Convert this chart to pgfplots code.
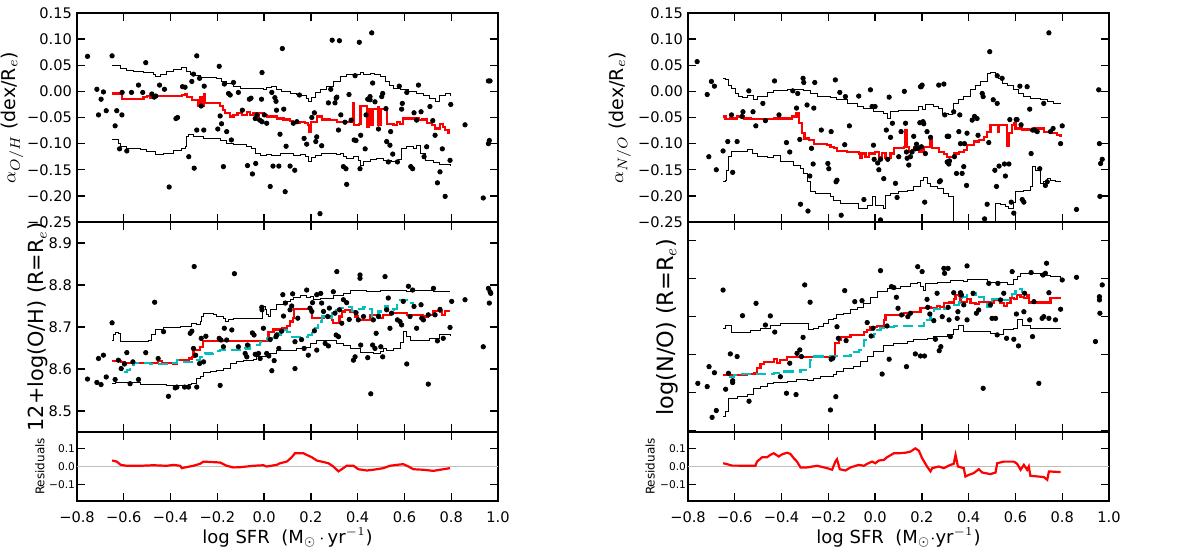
\documentclass[border=0pt]{standalone}
\usepackage{pgfplots}
\pgfplotsset{compat=1.18}
\usepackage{fontspec}
\setmainfont{DejaVu Sans}
\definecolor{mcyan}{rgb}{0,0.75,0.75}
\pgfplotsset{
  panel/.style={scale only axis, width=210.5pt, xmin=-0.8, xmax=1.0,
    xtick={-0.8,-0.6,-0.4,-0.2,0,0.2,0.4,0.6,0.8,1.0},
    tick align=inside, major tick length=4pt,
    axis line style={line width=0.8pt},
    every tick/.append style={line width=0.7pt, black},
    tick label style={font=\fontsize{7.3}{8}\selectfont},
    yticklabel style={xshift=1pt},
    label style={font=\fontsize{9.5}{11}\selectfont},
    anchor=south west},
  xlabs/.style={xticklabels={−0.8,−0.6,−0.4,−0.2,0.0,0.2,0.4,0.6,0.8,1.0},
    xticklabel style={yshift=-2pt},
    xlabel style={at={(axis description cs:0.5,-0.53)}, anchor=center, font=\fontsize{9}{11}\selectfont}},
  noxlabs/.style={xticklabels={}},
  alphay/.style={ymin=-0.25, ymax=0.15, ytick={-0.25,-0.2,-0.15,-0.1,-0.05,0,0.05,0.1,0.15},
    yticklabels={−0.25,−0.20,−0.15,−0.10,−0.05,0.00,0.05,0.10,0.15}},
  resy/.style={height=34.5pt, ymin=-0.19, ymax=0.19, ytick={-0.1,0,0.1},
    yticklabels={−0.1,0.0,0.1}, yticklabel style={font=\fontsize{5.3}{6}\selectfont, xshift=1.5pt},
    ylabel={Residuals}, ylabel style={font=\fontsize{6}{7}\selectfont}},
  dots/.style={only marks, mark=*, mark size=1.1pt, black},
  env/.style={black, line width=0.5pt, no markers, const plot},
  med/.style={red, line width=1.1pt, no markers, const plot},
  resl/.style={red, line width=1.1pt, no markers},
  fitl/.style={mcyan, line width=1.1pt, dash pattern=on 5pt off 2.5pt, no markers, const plot},
  zero/.style={black!25, line width=0.8pt, no markers},
}
\begin{document}
\begin{tikzpicture}
\useasboundingbox (0,0) rectangle (600pt,277pt);
% ================= LEFT TOP =================
\begin{axis}[panel, alphay, noxlabs, at={(38.5pt,166pt)}, height=104.5pt,
  ylabel={$\alpha_{O/H}$ (dex/R$_e$)},
  ylabel style={at={(axis description cs:-0.154,0.5)}, anchor=center}]
\addplot[dots] coordinates {
(-0.755,0.067) (-0.715,0.004) (-0.708,-0.045) (-0.697,-0.015) (-0.687,-0.001) (-0.675,-0.037) (-0.650,0.068) (-0.637,-0.066) (-0.630,-0.037) (-0.618,-0.110) (-0.608,-0.045) (-0.607,-0.002) (-0.587,-0.114) (-0.567,-0.002) (-0.537,0.012) (-0.519,-0.002) (-0.506,0.055) (-0.480,-0.005) (-0.470,-0.011) (-0.463,-0.009) (-0.447,0.012) (-0.426,0.004) (-0.406,-0.183) (-0.377,-0.052) (-0.370,-0.050) (-0.349,0.009) (-0.338,0.008) (-0.322,-0.125) (-0.309,0.019) (-0.302,0.033) (-0.299,-0.147) (-0.288,0.068) (-0.288,-0.074) (-0.276,0.025) (-0.269,-0.028) (-0.258,-0.074) (-0.256,0.010) (-0.198,-0.072) (-0.192,0.048) (-0.188,-0.047) (-0.182,-0.062) (-0.174,-0.144) (-0.170,0.014) (-0.160,-0.077) (-0.152,-0.004) (-0.145,-0.007) (-0.140,-0.093) (-0.131,0.017) (-0.110,-0.002) (-0.093,-0.036) (-0.071,-0.142) (-0.063,-0.015) (-0.056,-0.013) (-0.050,-0.158) (-0.038,-0.052) (-0.036,-0.138) (-0.031,-0.045) (-0.019,-0.055) (-0.011,-0.015) (-0.009,0.036) (-0.009,-0.058) (0.001,-0.045) (0.011,-0.061) (0.026,-0.182) (0.033,-0.002) (0.038,-0.143) (0.046,-0.012) (0.051,-0.019) (0.053,-0.036) (0.063,-0.143) (0.068,-0.082) (0.078,0.082) (0.084,-0.034) (0.090,-0.192) (0.094,-0.105) (0.111,-0.143) (0.125,-0.061) (0.131,-0.151) (0.140,-0.058) (0.151,-0.007) (0.171,-0.090) (0.182,-0.101) (0.204,-0.050) (0.215,-0.041) (0.221,-0.096) (0.225,-0.087) (0.239,-0.234) (0.246,-0.104) (0.275,-0.022) (0.285,0.004) (0.291,0.098) (0.303,-0.022) (0.308,-0.013) (0.311,-0.011) (0.318,-0.074) (0.322,0.097) (0.328,-0.045) (0.339,-0.144) (0.346,-0.059) (0.350,-0.148) (0.353,-0.178) (0.363,-0.006) (0.372,-0.055) (0.385,-0.093) (0.389,0.030) (0.393,-0.094) (0.407,0.094) (0.410,-0.148) (0.413,-0.084) (0.432,-0.110) (0.436,-0.045) (0.443,-0.015) (0.453,-0.010) (0.460,0.112) (0.464,0.016) (0.453,-0.016) (0.474,-0.020) (0.489,-0.072) (0.503,-0.010) (0.507,-0.004) (0.521,-0.033) (0.524,-0.096) (0.531,-0.135) (0.538,-0.103) (0.541,-0.077) (0.550,-0.120) (0.570,-0.135) (0.578,0.010) (0.588,-0.034) (0.591,-0.023) (0.610,-0.002) (0.627,-0.144) (0.635,-0.148) (0.641,-0.041) (0.652,-0.055) (0.660,0.012) (0.671,-0.039) (0.684,-0.125) (0.695,-0.106) (0.709,-0.029) (0.721,-0.056) (0.731,-0.084) (0.741,-0.175) (0.752,-0.154) (0.762,-0.110) (0.774,-0.201) (0.795,-0.132) (0.798,-0.025) (0.859,-0.064) (0.937,-0.204) (0.959,0.020) (0.966,0.020) (0.959,-0.100) (0.963,-0.094)};
\addplot[env] coordinates {
(-0.650,0.049) (-0.637,0.049) (-0.615,0.044) (-0.587,0.040) (-0.558,0.038) (-0.516,0.037) (-0.473,0.033) (-0.466,0.028) (-0.444,0.032) (-0.416,0.039) (-0.387,0.041) (-0.352,0.046) (-0.330,0.038) (-0.316,0.033) (-0.295,0.030) (-0.274,0.027) (-0.217,0.027) (-0.202,0.025) (-0.181,0.018) (-0.160,0.016) (-0.131,0.009) (-0.103,0.006) (-0.003,0.004) (0.011,0.008) (0.033,0.009) (0.054,0.003) (0.075,0.000) (0.111,-0.004) (0.140,-0.006) (0.161,-0.007) (0.182,-0.013) (0.189,-0.020) (0.204,-0.011) (0.218,-0.002) (0.239,0.004) (0.268,0.010) (0.296,0.019) (0.325,0.028) (0.353,0.033) (0.410,0.036) (0.425,0.033) (0.453,0.035) (0.474,0.033) (0.496,0.028) (0.517,0.019) (0.538,0.012) (0.553,0.006) (0.581,0.003) (0.617,-0.000) (0.652,-0.004) (0.681,-0.007) (0.709,-0.013) (0.731,-0.020) (0.752,-0.007) (0.774,-0.005) (0.795,-0.009)};
\addplot[env] coordinates {
(-0.650,-0.093) (-0.637,-0.092) (-0.623,-0.100) (-0.615,-0.106) (-0.587,-0.109) (-0.530,-0.112) (-0.501,-0.116) (-0.466,-0.120) (-0.430,-0.118) (-0.387,-0.114) (-0.352,-0.109) (-0.338,-0.106) (-0.330,-0.087) (-0.323,-0.082) (-0.302,-0.087) (-0.259,-0.090) (-0.217,-0.090) (-0.188,-0.094) (-0.160,-0.100) (-0.131,-0.101) (-0.074,-0.106) (-0.053,-0.109) (-0.038,-0.119) (-0.017,-0.122) (0.011,-0.120) (0.033,-0.122) (0.068,-0.118) (0.125,-0.122) (0.154,-0.120) (0.175,-0.124) (0.189,-0.135) (0.204,-0.127) (0.218,-0.122) (0.246,-0.119) (0.282,-0.118) (0.311,-0.120) (0.325,-0.119) (0.339,-0.125) (0.353,-0.128) (0.382,-0.125) (0.403,-0.132) (0.410,-0.141) (0.425,-0.135) (0.453,-0.130) (0.481,-0.129) (0.510,-0.132) (0.546,-0.135) (0.574,-0.130) (0.588,-0.109) (0.610,-0.105) (0.638,-0.109) (0.652,-0.103) (0.667,-0.119) (0.688,-0.132) (0.724,-0.137) (0.752,-0.139) (0.795,-0.143)};
\addplot[med] coordinates {
(-0.650,-0.004) (-0.615,-0.005) (-0.608,-0.014) (-0.544,-0.014) (-0.516,-0.010) (-0.501,-0.009) (-0.487,-0.013) (-0.480,-0.007) (-0.473,-0.011) (-0.459,-0.009) (-0.352,-0.007) (-0.338,-0.005) (-0.330,-0.010) (-0.309,-0.016) (-0.288,-0.016) (-0.281,-0.028) (-0.274,-0.010) (-0.268,-0.028) (-0.259,-0.020) (-0.256,-0.005) (-0.252,-0.023) (-0.217,-0.023) (-0.188,-0.028) (-0.177,-0.036) (-0.167,-0.042) (-0.145,-0.048) (-0.131,-0.045) (-0.114,-0.042) (-0.095,-0.045) (-0.074,-0.039) (-0.060,-0.045) (-0.046,-0.042) (-0.031,-0.048) (-0.024,-0.042) (-0.003,-0.045) (0.011,-0.048) (0.040,-0.048) (0.054,-0.052) (0.083,-0.054) (0.111,-0.056) (0.125,-0.060) (0.154,-0.059) (0.175,-0.061) (0.189,-0.064) (0.194,-0.077) (0.200,-0.058) (0.225,-0.048) (0.246,-0.054) (0.282,-0.055) (0.311,-0.058) (0.372,-0.058) (0.380,-0.023) (0.386,-0.065) (0.405,-0.062) (0.412,-0.028) (0.432,-0.028) (0.440,-0.068) (0.447,-0.033) (0.457,-0.064) (0.466,-0.033) (0.486,-0.031) (0.489,-0.064) (0.500,-0.033) (0.520,-0.033) (0.524,-0.062) (0.553,-0.064) (0.567,-0.058) (0.581,-0.062) (0.595,-0.052) (0.638,-0.052) (0.660,-0.055) (0.674,-0.054) (0.695,-0.061) (0.717,-0.064) (0.731,-0.071) (0.752,-0.062) (0.766,-0.068) (0.775,-0.074) (0.788,-0.080) (0.795,-0.080)};
\end{axis}
% ================= LEFT MIDDLE =================
\begin{axis}[panel, noxlabs, at={(38.5pt,61pt)}, height=105pt,
  ymin=8.45, ymax=8.95, ytick={8.5,8.6,8.7,8.8,8.9},
  yticklabels={8.5,8.6,8.7,8.8,8.9},
  ylabel={12+log(O/H) (R=R$_e$)},
  ylabel style={at={(axis description cs:-0.093,0.5)}, anchor=center, font=\fontsize{10.4}{12}\selectfont}]
\addplot[dots] coordinates {
(-0.755,8.576) (-0.715,8.568) (-0.708,8.625) (-0.697,8.563) (-0.687,8.633) (-0.675,8.581) (-0.650,8.710) (-0.637,8.575) (-0.623,8.621) (-0.611,8.601) (-0.597,8.612) (-0.587,8.639) (-0.573,8.565) (-0.561,8.617) (-0.537,8.575) (-0.506,8.639) (-0.468,8.759) (-0.453,8.625) (-0.430,8.689) (-0.409,8.535) (-0.380,8.555) (-0.373,8.557) (-0.340,8.557) (-0.323,8.557) (-0.316,8.685) (-0.309,8.690) (-0.302,8.649) (-0.299,8.844) (-0.293,8.633) (-0.288,8.557) (-0.276,8.613) (-0.269,8.673) (-0.259,8.617) (-0.249,8.678) (-0.188,8.561) (-0.192,8.673) (-0.184,8.669) (-0.174,8.653) (-0.170,8.697) (-0.160,8.669) (-0.138,8.693) (-0.127,8.827) (-0.110,8.653) (-0.081,8.637) (-0.074,8.629) (-0.071,8.657) (-0.050,8.686) (-0.043,8.681) (-0.038,8.635) (-0.024,8.637) (-0.017,8.625) (-0.010,8.747) (-0.009,8.741) (-0.003,8.697) (0.011,8.637) (0.020,8.631) (0.026,8.670) (0.033,8.596) (0.043,8.620) (0.051,8.677) (0.054,8.681) (0.063,8.649) (0.075,8.690) (0.080,8.777) (0.083,8.726) (0.091,8.757) (0.111,8.741) (0.118,8.750) (0.122,8.779) (0.132,8.601) (0.132,8.665) (0.144,8.721) (0.160,8.670) (0.171,8.649) (0.182,8.788) (0.189,8.633) (0.196,8.745) (0.204,8.737) (0.207,8.758) (0.215,8.691) (0.225,8.645) (0.225,8.777) (0.242,8.780) (0.246,8.757) (0.254,8.737) (0.261,8.661) (0.272,8.725) (0.275,8.655) (0.279,8.745) (0.296,8.784) (0.303,8.733) (0.308,8.681) (0.311,8.832) (0.318,8.677) (0.322,8.741) (0.332,8.709) (0.339,8.765) (0.353,8.758) (0.364,8.718) (0.382,8.621) (0.389,8.629) (0.393,8.734) (0.403,8.717) (0.410,8.824) (0.410,8.816) (0.413,8.657) (0.425,8.725) (0.443,8.627) (0.456,8.541) (0.464,8.657) (0.467,8.717) (0.474,8.649) (0.479,8.685) (0.489,8.725) (0.499,8.653) (0.507,8.629) (0.517,8.820) (0.524,8.741) (0.531,8.769) (0.538,8.697) (0.545,8.733) (0.570,8.717) (0.581,8.713) (0.588,8.705) (0.595,8.761) (0.610,8.612) (0.617,8.797) (0.624,8.725) (0.635,8.788) (0.641,8.749) (0.652,8.697) (0.671,8.753) (0.674,8.721) (0.681,8.717) (0.702,8.564) (0.702,8.729) (0.724,8.792) (0.731,8.729) (0.741,8.667) (0.752,8.742) (0.766,8.673) (0.795,8.699) (0.802,8.761) (0.859,8.765) (0.937,8.653) (0.959,8.792) (0.963,8.757) (0.966,8.784) (0.969,8.780)};
\addplot[env] coordinates {
(-0.650,8.669) (-0.644,8.681) (-0.637,8.686) (-0.623,8.685) (-0.613,8.665) (-0.494,8.667) (-0.480,8.681) (-0.466,8.693) (-0.430,8.698) (-0.359,8.702) (-0.309,8.709) (-0.288,8.707) (-0.274,8.713) (-0.266,8.725) (-0.259,8.731) (-0.217,8.730) (-0.202,8.725) (-0.174,8.721) (-0.167,8.713) (-0.152,8.717) (-0.131,8.721) (-0.017,8.721) (-0.009,8.750) (0.004,8.741) (0.011,8.729) (0.020,8.725) (0.026,8.741) (0.054,8.753) (0.083,8.761) (0.111,8.765) (0.125,8.771) (0.154,8.776) (0.182,8.770) (0.197,8.773) (0.211,8.765) (0.239,8.769) (0.296,8.774) (0.339,8.780) (0.368,8.787) (0.410,8.788) (0.439,8.784) (0.496,8.788) (0.581,8.787) (0.610,8.784) (0.638,8.788) (0.724,8.784) (0.795,8.784)};
\addplot[env] coordinates {
(-0.650,8.565) (-0.637,8.567) (-0.530,8.564) (-0.416,8.561) (-0.323,8.564) (-0.309,8.565) (-0.288,8.577) (-0.274,8.581) (-0.259,8.591) (-0.231,8.593) (-0.202,8.597) (-0.174,8.601) (-0.145,8.612) (-0.117,8.617) (-0.088,8.621) (-0.046,8.623) (-0.031,8.629) (0.011,8.637) (0.054,8.643) (0.111,8.645) (0.140,8.649) (0.168,8.651) (0.197,8.661) (0.225,8.669) (0.282,8.667) (0.311,8.661) (0.339,8.657) (0.368,8.649) (0.410,8.639) (0.467,8.637) (0.496,8.641) (0.510,8.649) (0.524,8.645) (0.553,8.649) (0.581,8.663) (0.595,8.689) (0.607,8.677) (0.624,8.669) (0.667,8.667) (0.709,8.673) (0.752,8.681) (0.795,8.678)};
\addplot[med] coordinates {
(-0.650,8.620) (-0.613,8.617) (-0.594,8.615) (-0.473,8.615) (-0.452,8.620) (-0.437,8.615) (-0.387,8.613) (-0.373,8.621) (-0.330,8.617) (-0.321,8.625) (-0.309,8.629) (-0.302,8.645) (-0.274,8.653) (-0.262,8.667) (-0.202,8.667) (-0.160,8.667) (-0.103,8.667) (0.011,8.670) (0.019,8.689) (0.033,8.689) (0.040,8.694) (0.075,8.697) (0.097,8.702) (0.111,8.713) (0.125,8.721) (0.128,8.742) (0.197,8.742) (0.204,8.721) (0.254,8.725) (0.289,8.717) (0.296,8.709) (0.311,8.709) (0.322,8.725) (0.332,8.737) (0.346,8.741) (0.368,8.737) (0.389,8.725) (0.403,8.717) (0.439,8.717) (0.453,8.729) (0.496,8.721) (0.510,8.729) (0.538,8.733) (0.595,8.734) (0.610,8.729) (0.681,8.725) (0.702,8.729) (0.724,8.739) (0.752,8.737) (0.759,8.729) (0.774,8.739) (0.795,8.739)};
\addplot[fitl] coordinates {
(-0.601,8.593) (-0.587,8.597) (-0.573,8.609) (-0.558,8.615) (-0.487,8.612) (-0.416,8.615) (-0.373,8.621) (-0.352,8.617) (-0.309,8.621) (-0.274,8.629) (-0.252,8.637) (-0.217,8.643) (-0.188,8.645) (-0.131,8.645) (-0.081,8.649) (-0.060,8.657) (-0.017,8.665) (0.011,8.673) (0.040,8.673) (0.054,8.685) (0.068,8.681) (0.083,8.693) (0.097,8.689) (0.111,8.677) (0.154,8.677) (0.189,8.681) (0.204,8.685) (0.218,8.697) (0.232,8.713) (0.246,8.725) (0.261,8.721) (0.289,8.734) (0.303,8.741) (0.325,8.745) (0.346,8.747) (0.375,8.739) (0.396,8.742) (0.425,8.747) (0.446,8.742) (0.460,8.725) (0.489,8.737) (0.517,8.749) (0.531,8.741) (0.553,8.742) (0.567,8.753) (0.581,8.765) (0.610,8.757) (0.638,8.749)};
\end{axis}
% ================= LEFT BOTTOM =================
\begin{axis}[panel, resy, xlabs, at={(38.5pt,26.5pt)},
  xlabel={log SFR\ \ (M$_\odot\,\cdot\,$yr$^{-1}$)},
  ylabel style={at={(axis description cs:-0.088,0.5)}, anchor=center}]
\addplot[zero] coordinates {(-0.8,0) (1.0,0)};
\addplot[resl] coordinates {
(-0.650,0.033) (-0.630,0.027) (-0.613,0.009) (-0.587,0.004) (-0.530,0.004) (-0.473,0.007) (-0.416,0.004) (-0.387,0.009) (-0.359,0.004) (-0.352,-0.009) (-0.338,-0.005) (-0.302,0.004) (-0.274,0.015) (-0.259,0.027) (-0.217,0.024) (-0.188,0.022) (-0.160,0.004) (-0.131,-0.005) (-0.103,-0.004) (-0.046,0.004) (-0.003,0.007) (0.011,0.000) (0.054,0.009) (0.068,0.018) (0.097,0.027) (0.118,0.051) (0.132,0.073) (0.168,0.073) (0.182,0.064) (0.204,0.051) (0.225,0.033) (0.246,0.027) (0.275,0.018) (0.296,0.000) (0.318,-0.027) (0.332,-0.015) (0.353,0.004) (0.382,0.004) (0.403,-0.015) (0.439,-0.022) (0.467,-0.018) (0.510,-0.009) (0.538,0.004) (0.567,0.009) (0.595,0.013) (0.617,0.000) (0.638,-0.015) (0.681,-0.018) (0.724,-0.024) (0.752,-0.018) (0.795,-0.009)};
\end{axis}
% ================= RIGHT TOP =================
\begin{axis}[panel, alphay, noxlabs, at={(344pt,166pt)}, height=104.5pt,
  ylabel={$\alpha_{N/O}$ (dex/R$_e$)},
  ylabel style={at={(axis description cs:-0.162,0.5)}, anchor=center}]
\addplot[dots] coordinates {
(-0.761,0.057) (-0.718,-0.006) (-0.700,0.019) (-0.687,0.010) (-0.679,-0.150) (-0.711,-0.125) (-0.650,-0.114) (-0.630,-0.096) (-0.614,-0.045) (-0.609,-0.155) (-0.590,-0.096) (-0.569,-0.048) (-0.565,-0.039) (-0.540,0.001) (-0.522,-0.039) (-0.510,-0.066) (-0.480,-0.023) (-0.469,-0.056) (-0.430,0.020) (-0.411,-0.045) (-0.379,-0.098) (-0.365,-0.116) (-0.352,0.001) (-0.336,-0.032) (-0.331,-0.004) (-0.322,-0.092) (-0.319,-0.216) (-0.308,0.025) (-0.305,0.017) (-0.291,-0.026) (-0.287,-0.229) (-0.279,-0.162) (-0.272,-0.109) (-0.265,-0.139) (-0.262,-0.032) (-0.258,0.017) (-0.230,-0.074) (-0.202,-0.138) (-0.198,-0.148) (-0.188,-0.077) (-0.170,0.022) (-0.167,-0.173) (-0.163,-0.170) (-0.151,-0.002) (-0.145,-0.237) (-0.130,-0.102) (-0.127,-0.010) (-0.110,-0.066) (-0.070,-0.009) (-0.048,-0.207) (-0.020,0.003) (-0.013,-0.029) (-0.007,-0.103) (-0.004,-0.130) (0.000,-0.029) (0.011,-0.137) (0.016,-0.150) (0.023,-0.246) (0.023,-0.130) (0.037,-0.167) (0.048,-0.074) (0.054,-0.130) (0.060,-0.011) (0.066,-0.088) (0.074,-0.061) (0.087,-0.176) (0.094,-0.203) (0.101,-0.125) (0.111,-0.077) (0.125,-0.000) (0.130,-0.061) (0.134,-0.116) (0.137,-0.128) (0.144,-0.141) (0.151,-0.125) (0.158,-0.116) (0.165,-0.086) (0.172,-0.110) (0.177,-0.101) (0.184,-0.109) (0.191,-0.060) (0.194,0.009) (0.197,0.009) (0.198,-0.106) (0.201,0.012) (0.205,-0.058) (0.208,-0.062) (0.212,-0.212) (0.215,-0.119) (0.222,-0.077) (0.237,-0.088) (0.272,0.012) (0.275,-0.173) (0.279,-0.171) (0.294,0.014) (0.298,-0.045) (0.308,-0.086) (0.308,-0.135) (0.311,-0.086) (0.315,-0.086) (0.315,-0.139) (0.318,-0.133) (0.336,-0.039) (0.339,-0.125) (0.348,-0.157) (0.358,-0.077) (0.362,-0.045) (0.365,-0.100) (0.372,-0.157) (0.379,-0.144) (0.382,-0.100) (0.391,-0.180) (0.393,-0.080) (0.415,-0.055) (0.425,-0.048) (0.436,-0.052) (0.440,-0.084) (0.458,-0.004) (0.462,-0.010) (0.468,-0.244) (0.479,-0.216) (0.486,-0.098) (0.490,0.076) (0.505,-0.016) (0.512,-0.151) (0.519,-0.182) (0.522,0.030) (0.522,-0.023) (0.530,-0.143) (0.543,0.025) (0.553,-0.139) (0.557,-0.162) (0.572,-0.139) (0.576,-0.054) (0.582,-0.212) (0.593,-0.233) (0.603,-0.054) (0.607,-0.054) (0.619,0.010) (0.624,-0.064) (0.629,-0.207) (0.636,-0.212) (0.650,0.009) (0.661,-0.034) (0.667,-0.119) (0.673,-0.074) (0.681,-0.074) (0.693,-0.077) (0.704,-0.148) (0.721,-0.023) (0.728,-0.180) (0.736,-0.173) (0.743,0.112) (0.750,-0.077) (0.761,-0.071) (0.793,-0.100) (0.800,-0.066) (0.861,-0.226) (0.956,0.003) (0.959,-0.100) (0.961,-0.201) (0.964,-0.138) (0.971,-0.130)};
\addplot[env] coordinates {
(-0.650,0.025) (-0.640,0.022) (-0.626,0.012) (-0.612,0.006) (-0.597,-0.005) (-0.583,-0.010) (-0.569,-0.011) (-0.547,-0.007) (-0.519,-0.015) (-0.505,-0.010) (-0.462,-0.002) (-0.433,0.001) (-0.376,0.004) (-0.334,0.003) (-0.305,0.001) (-0.277,-0.005) (-0.248,-0.009) (-0.191,-0.011) (-0.163,-0.016) (-0.120,-0.023) (-0.077,-0.029) (-0.048,-0.032) (-0.006,-0.039) (0.037,-0.042) (0.051,-0.052) (0.066,-0.039) (0.101,-0.036) (0.165,-0.036) (0.187,-0.029) (0.201,-0.034) (0.215,-0.026) (0.230,-0.026) (0.251,-0.029) (0.272,-0.032) (0.287,-0.045) (0.301,-0.042) (0.315,-0.045) (0.329,-0.039) (0.336,-0.023) (0.358,-0.016) (0.379,-0.010) (0.408,0.003) (0.429,0.012) (0.450,0.019) (0.479,0.034) (0.493,0.036) (0.515,0.032) (0.529,0.025) (0.543,0.016) (0.565,0.012) (0.593,0.003) (0.614,-0.004) (0.636,-0.010) (0.664,-0.013) (0.707,-0.016) (0.736,-0.020) (0.764,-0.023) (0.793,-0.023)};
\addplot[env] coordinates {
(-0.650,-0.173) (-0.640,-0.170) (-0.636,-0.151) (-0.626,-0.125) (-0.612,-0.116) (-0.547,-0.112) (-0.526,-0.119) (-0.505,-0.125) (-0.462,-0.126) (-0.433,-0.122) (-0.405,-0.135) (-0.376,-0.135) (-0.348,-0.141) (-0.319,-0.148) (-0.305,-0.157) (-0.291,-0.173) (-0.277,-0.192) (-0.255,-0.196) (-0.212,-0.196) (-0.191,-0.202) (-0.177,-0.208) (-0.148,-0.215) (-0.091,-0.215) (-0.070,-0.224) (-0.048,-0.224) (-0.034,-0.218) (-0.013,-0.202) (0.001,-0.218) (0.037,-0.224) (0.044,-0.199) (0.066,-0.196) (0.101,-0.192) (0.137,-0.189) (0.165,-0.183) (0.194,-0.170) (0.208,-0.164) (0.222,-0.176) (0.237,-0.183) (0.265,-0.186) (0.294,-0.196) (0.315,-0.202) (0.329,-0.202) (0.336,-0.260) (0.515,-0.260) (0.515,-0.215) (0.536,-0.216) (0.557,-0.221) (0.572,-0.224) (0.593,-0.212) (0.600,-0.192) (0.636,-0.189) (0.664,-0.183) (0.671,-0.144) (0.686,-0.151) (0.707,-0.176) (0.721,-0.173) (0.736,-0.167) (0.750,-0.170) (0.771,-0.173) (0.793,-0.173)};
\addplot[med] coordinates {
(-0.650,-0.048) (-0.640,-0.053) (-0.619,-0.052) (-0.590,-0.048) (-0.576,-0.047) (-0.562,-0.052) (-0.533,-0.053) (-0.433,-0.052) (-0.376,-0.052) (-0.355,-0.048) (-0.336,-0.042) (-0.326,-0.061) (-0.312,-0.080) (-0.302,-0.090) (-0.284,-0.093) (-0.262,-0.101) (-0.205,-0.102) (-0.191,-0.106) (-0.177,-0.109) (-0.163,-0.114) (-0.120,-0.116) (-0.091,-0.116) (-0.070,-0.119) (-0.066,-0.128) (-0.056,-0.119) (-0.041,-0.125) (-0.027,-0.119) (0.001,-0.116) (0.016,-0.125) (0.030,-0.118) (0.044,-0.128) (0.058,-0.128) (0.066,-0.119) (0.080,-0.109) (0.123,-0.106) (0.130,-0.074) (0.134,-0.106) (0.144,-0.116) (0.158,-0.112) (0.165,-0.106) (0.180,-0.109) (0.187,-0.116) (0.194,-0.106) (0.201,-0.116) (0.208,-0.106) (0.230,-0.106) (0.237,-0.093) (0.244,-0.109) (0.272,-0.116) (0.294,-0.120) (0.308,-0.125) (0.336,-0.119) (0.358,-0.116) (0.379,-0.112) (0.393,-0.103) (0.422,-0.096) (0.443,-0.093) (0.465,-0.087) (0.479,-0.077) (0.493,-0.064) (0.522,-0.064) (0.525,-0.077) (0.529,-0.064) (0.543,-0.064) (0.565,-0.104) (0.572,-0.080) (0.586,-0.064) (0.593,-0.061) (0.600,-0.071) (0.629,-0.073) (0.657,-0.074) (0.679,-0.071) (0.721,-0.077) (0.750,-0.080) (0.778,-0.084) (0.793,-0.087)};
\end{axis}
% ================= RIGHT MIDDLE =================
\begin{axis}[panel, noxlabs, at={(344pt,61pt)}, height=105pt,
  ymin=-1.607, ymax=-0.502, ytick={-1.6,-1.4,-1.2,-1.0,-0.8,-0.6},
  yticklabels={},
  ylabel={log(N/O) (R=R$_e$)},
  ylabel style={at={(axis description cs:-0.050,0.5)}, anchor=center, font=\fontsize{11.2}{13}\selectfont}]
\addplot[dots] coordinates {
(-0.758,-1.351) (-0.718,-1.368) (-0.710,-1.263) (-0.687,-1.295) (-0.697,-1.530) (-0.679,-1.494) (-0.650,-0.860) (-0.639,-1.382) (-0.627,-1.298) (-0.619,-1.196) (-0.609,-1.337) (-0.609,-1.347) (-0.590,-1.210) (-0.567,-0.995) (-0.539,-1.445) (-0.509,-0.930) (-0.469,-1.044) (-0.448,-0.996) (-0.429,-1.081) (-0.405,-1.316) (-0.379,-1.403) (-0.365,-1.245) (-0.338,-1.410) (-0.334,-1.193) (-0.322,-1.175) (-0.315,-1.210) (-0.301,-0.833) (-0.278,-0.924) (-0.308,-1.109) (-0.191,-1.491) (-0.188,-1.224) (-0.181,-1.219) (-0.168,-1.421) (-0.163,-1.053) (-0.157,-1.114) (-0.130,-0.863) (-0.124,-1.126) (-0.087,-0.921) (-0.056,-0.916) (-0.034,-1.031) (-0.017,-1.102) (-0.009,-1.061) (0.023,-0.758) (0.030,-1.302) (0.051,-1.049) (0.060,-1.224) (0.070,-0.842) (0.080,-0.847) (0.091,-0.898) (0.098,-0.956) (0.113,-0.991) (0.134,-1.263) (0.140,-1.000) (0.151,-0.982) (0.172,-1.196) (0.182,-0.737) (0.194,-1.207) (0.201,-0.763) (0.211,-1.207) (0.222,-0.909) (0.225,-0.951) (0.234,-0.986) (0.251,-1.021) (0.258,-1.119) (0.265,-0.877) (0.274,-1.179) (0.281,-1.158) (0.287,-1.000) (0.294,-0.746) (0.297,-0.772) (0.312,-0.746) (0.312,-0.951) (0.316,-1.017) (0.322,-1.105) (0.336,-0.874) (0.351,-1.009) (0.354,-0.974) (0.365,-0.874) (0.369,-0.886) (0.379,-0.938) (0.393,-1.017) (0.393,-0.733) (0.419,-0.877) (0.433,-0.982) (0.443,-0.965) (0.462,-1.377) (0.486,-0.825) (0.493,-0.938) (0.500,-1.009) (0.515,-1.009) (0.522,-1.096) (0.525,-0.825) (0.536,-0.912) (0.550,-0.877) (0.562,-1.114) (0.586,-0.763) (0.593,-1.119) (0.604,-0.986) (0.613,-1.154) (0.636,-0.974) (0.639,-0.877) (0.661,-1.017) (0.667,-0.768) (0.673,-1.105) (0.679,-0.921) (0.700,-1.351) (0.714,-1.009) (0.718,-0.781) (0.721,-1.000) (0.728,-0.772) (0.743,-1.009) (0.733,-0.719) (0.743,-0.874) (0.771,-1.017) (0.793,-0.961) (0.800,-0.807) (0.861,-0.793) (0.942,-1.131) (0.959,-0.895) (0.959,-0.912) (0.961,-0.982) (0.971,-0.833)};
\addplot[env] coordinates {
(-0.650,-1.061) (-0.640,-1.049) (-0.626,-1.044) (-0.612,-1.084) (-0.533,-1.074) (-0.490,-1.061) (-0.448,-1.044) (-0.405,-1.035) (-0.298,-1.035) (-0.284,-1.070) (-0.262,-1.061) (-0.241,-1.053) (-0.220,-1.035) (-0.198,-1.017) (-0.177,-1.009) (-0.163,-0.991) (-0.134,-0.982) (-0.105,-0.965) (-0.077,-0.951) (-0.048,-0.930) (-0.020,-0.898) (0.009,-0.868) (0.051,-0.851) (0.108,-0.839) (0.137,-0.839) (0.151,-0.825) (0.180,-0.821) (0.194,-0.842) (0.208,-0.860) (0.215,-0.825) (0.265,-0.821) (0.322,-0.810) (0.379,-0.816) (0.393,-0.807) (0.436,-0.807) (0.479,-0.821) (0.536,-0.821) (0.565,-0.833) (0.593,-0.807) (0.607,-0.789) (0.622,-0.775) (0.664,-0.772) (0.707,-0.781) (0.750,-0.789) (0.793,-0.798)};
\addplot[env] coordinates {
(-0.650,-1.523) (-0.640,-1.500) (-0.626,-1.430) (-0.590,-1.421) (-0.547,-1.412) (-0.519,-1.377) (-0.490,-1.368) (-0.462,-1.351) (-0.433,-1.345) (-0.376,-1.342) (-0.334,-1.333) (-0.291,-1.337) (-0.262,-1.324) (-0.234,-1.316) (-0.177,-1.307) (-0.163,-1.289) (-0.134,-1.272) (-0.091,-1.263) (-0.063,-1.237) (-0.034,-1.210) (-0.006,-1.184) (0.037,-1.154) (0.080,-1.140) (0.137,-1.131) (0.165,-1.119) (0.222,-1.114) (0.251,-1.105) (0.308,-1.096) (0.336,-1.070) (0.358,-1.044) (0.379,-1.079) (0.465,-1.079) (0.493,-1.088) (0.522,-1.096) (0.550,-1.070) (0.593,-1.061) (0.607,-1.017) (0.629,-1.049) (0.664,-1.061) (0.793,-1.061)};
\addplot[med] coordinates {
(-0.650,-1.307) (-0.547,-1.302) (-0.516,-1.295) (-0.505,-1.272) (-0.490,-1.249) (-0.476,-1.237) (-0.448,-1.237) (-0.433,-1.224) (-0.419,-1.245) (-0.405,-1.228) (-0.376,-1.214) (-0.191,-1.214) (-0.177,-1.210) (-0.170,-1.140) (-0.155,-1.123) (-0.148,-1.105) (-0.105,-1.096) (-0.048,-1.079) (-0.034,-1.070) (-0.020,-1.053) (0.009,-1.049) (0.037,-1.017) (0.044,-0.991) (0.087,-0.991) (0.123,-0.982) (0.151,-0.974) (0.194,-0.956) (0.230,-0.951) (0.237,-0.956) (0.265,-0.944) (0.279,-0.951) (0.294,-0.930) (0.315,-0.926) (0.336,-0.909) (0.344,-0.886) (0.358,-0.891) (0.365,-0.921) (0.386,-0.921) (0.393,-0.909) (0.408,-0.930) (0.429,-0.933) (0.443,-0.921) (0.493,-0.930) (0.508,-0.912) (0.536,-0.930) (0.550,-0.944) (0.565,-0.930) (0.579,-0.903) (0.593,-0.909) (0.607,-0.886) (0.622,-0.895) (0.636,-0.903) (0.650,-0.886) (0.657,-0.926) (0.721,-0.926) (0.750,-0.903) (0.793,-0.903)};
\addplot[fitl] coordinates {
(-0.626,-1.316) (-0.604,-1.309) (-0.576,-1.302) (-0.476,-1.302) (-0.433,-1.295) (-0.391,-1.289) (-0.348,-1.289) (-0.319,-1.281) (-0.291,-1.263) (-0.277,-1.228) (-0.262,-1.210) (-0.177,-1.207) (-0.105,-1.203) (-0.091,-1.184) (-0.070,-1.175) (-0.048,-1.123) (-0.034,-1.105) (-0.006,-1.091) (0.009,-1.070) (0.023,-1.061) (0.051,-1.056) (0.080,-1.049) (0.194,-1.049) (0.208,-1.035) (0.222,-1.017) (0.237,-0.991) (0.251,-0.961) (0.279,-0.951) (0.294,-0.961) (0.308,-0.956) (0.336,-0.938) (0.358,-0.926) (0.372,-0.895) (0.393,-0.874) (0.415,-0.886) (0.429,-0.877) (0.443,-0.895) (0.465,-0.912) (0.479,-0.951) (0.493,-0.944) (0.500,-0.909) (0.529,-0.898) (0.543,-0.912) (0.565,-0.912) (0.586,-0.881) (0.600,-0.868) (0.614,-0.856) (0.629,-0.874)};
\end{axis}
% ================= RIGHT BOTTOM =================
\begin{axis}[panel, resy, xlabs, at={(344pt,26.5pt)},
  xlabel={log SFR\ \ (M$_\odot\cdot$yr$^{-1}$)},
  ylabel style={at={(axis description cs:-0.090,0.5)}, anchor=center}]
\addplot[zero] coordinates {(-0.8,0) (1.0,0)};
\addplot[resl] coordinates {
(-0.650,0.018) (-0.633,0.013) (-0.612,0.005) (-0.512,0.004) (-0.505,0.027) (-0.483,0.051) (-0.462,0.051) (-0.448,0.064) (-0.433,0.073) (-0.412,0.055) (-0.398,0.067) (-0.376,0.076) (-0.362,0.069) (-0.348,0.046) (-0.334,0.027) (-0.319,-0.005) (-0.291,-0.005) (-0.248,0.004) (-0.205,-0.009) (-0.184,-0.018) (-0.170,0.027) (-0.163,0.040) (-0.151,-0.015) (-0.127,-0.022) (-0.105,-0.005) (-0.070,0.009) (-0.048,0.004) (-0.034,0.015) (-0.013,0.027) (0.001,0.018) (0.016,0.033) (0.037,0.036) (0.051,0.051) (0.080,0.073) (0.101,0.073) (0.130,0.076) (0.151,0.082) (0.172,0.100) (0.187,0.087) (0.201,0.046) (0.222,0.000) (0.237,-0.027) (0.244,-0.009) (0.272,0.000) (0.294,-0.009) (0.322,0.009) (0.336,0.015) (0.344,0.064) (0.354,0.000) (0.379,-0.009) (0.386,-0.055) (0.401,-0.046) (0.422,-0.036) (0.443,-0.015) (0.458,-0.033) (0.493,-0.042) (0.515,-0.033) (0.522,0.018) (0.550,0.027) (0.593,0.027) (0.607,0.015) (0.622,-0.018) (0.636,0.009) (0.650,-0.018) (0.657,0.000) (0.664,-0.051) (0.721,-0.058) (0.736,-0.073) (0.743,-0.027) (0.793,-0.031)};
\end{axis}
\end{tikzpicture}
\end{document}
